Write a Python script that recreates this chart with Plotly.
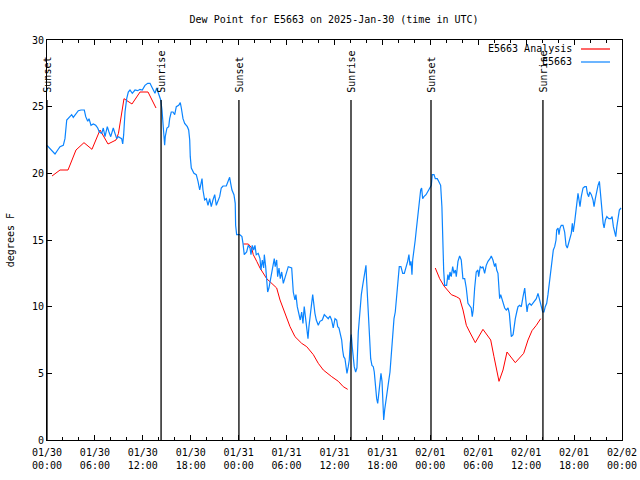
import pandas as pd
import plotly.graph_objects as go

# ---------------- data ----------------
start = "2025-01-30 00:00"
end = "2025-02-02 00:00"

# E5663 observations: hours since 2025-01-30 00:00 UTC, dew point (F)
obs_hours = [
    0.00, 0.59, 1.00, 1.34, 1.63, 2.04, 2.25, 2.47, 2.75, 3.09, 3.29, 3.59, 3.92, 4.26, 4.67, 4.85,
    5.10, 5.26, 5.51, 5.80, 6.10, 6.35, 6.55, 6.85, 7.05, 7.26, 7.55, 7.76, 7.98, 8.10, 8.30, 8.51,
    8.73, 8.93, 9.14, 9.35, 9.48, 9.60, 9.77, 9.98, 10.18, 10.39, 10.68, 11.02, 11.36, 11.64, 11.93,
    12.27, 12.61, 12.90, 13.11, 13.31, 13.52, 13.73, 13.93, 14.24, 14.40, 14.52, 14.65, 14.73, 14.81,
    15.02, 15.24, 15.36, 15.56, 15.78, 15.99, 16.19, 16.49, 16.69, 16.82, 17.03, 17.24, 17.57, 17.74,
    17.87, 17.94, 18.07, 18.40, 18.69, 18.91, 19.12, 19.24, 19.41, 19.53, 19.74, 19.95, 20.16, 20.37,
    20.57, 20.78, 21.00, 21.20, 21.41, 21.62, 21.82, 22.04, 22.45, 22.66, 22.87, 23.00, 23.16, 23.41,
    23.57, 23.62, 23.75, 24.13, 24.41, 24.54, 24.70, 25.00, 25.20, 25.42, 25.54, 25.70, 25.88, 26.04,
    26.20, 26.45, 26.67, 26.79, 26.96, 27.13, 27.21, 27.38, 27.51, 27.63, 27.79, 27.96, 28.13, 28.30,
    28.46, 28.58, 28.76, 28.88, 29.05, 29.21, 29.39, 29.59, 29.80, 30.01, 30.21, 30.64, 30.84, 31.05,
    31.17, 31.34, 31.55, 31.71, 31.89, 32.05, 32.21, 32.39, 32.55, 32.68, 32.80, 32.93, 33.14, 33.27,
    33.43, 33.55, 33.72, 33.97, 34.18, 34.47, 34.72, 35.02, 35.22, 35.43, 35.64, 35.84, 36.06, 36.27,
    36.40, 36.56, 36.72, 36.90, 37.02, 37.15, 37.31, 37.44, 37.56, 37.72, 37.85, 37.97, 38.10, 38.22,
    38.35, 38.47, 38.65, 38.81, 38.98, 39.19, 39.36, 39.53, 39.69, 39.82, 39.94, 40.03, 40.23, 40.36,
    40.53, 40.69, 40.86, 40.98, 41.11, 41.28, 41.41, 41.53, 41.70, 41.82, 41.95, 42.03, 42.16, 42.28,
    42.45, 42.61, 42.78, 42.95, 43.07, 43.20, 43.28, 43.45, 43.61, 43.78, 43.95, 44.11, 44.32, 44.54,
    44.74, 44.95, 45.16, 45.32, 45.45, 45.58, 45.70, 45.79, 45.95, 46.11, 46.24, 46.36, 46.49, 46.61,
    46.79, 46.91, 47.04, 47.20, 47.46, 47.74, 47.96, 48.12, 48.24, 48.46, 48.62, 48.87, 49.04, 49.29,
    49.45, 49.54, 49.67, 49.79, 50.04, 50.20, 50.33, 50.46, 50.62, 50.80, 50.96, 51.13, 51.25, 51.46,
    51.67, 51.87, 52.08, 52.30, 52.50, 52.71, 52.92, 53.12, 53.25, 53.37, 53.55, 53.75, 53.96, 54.05,
    54.25, 54.46, 54.59, 54.80, 55.00, 55.22, 55.47, 55.63, 55.84, 56.05, 56.18, 56.31, 56.47, 56.56,
    56.68, 56.81, 56.97, 57.14, 57.31, 57.51, 57.73, 57.89, 58.02, 58.14, 58.36, 58.48, 58.64, 58.82,
    58.98, 59.19, 59.39, 59.61, 59.82, 59.94, 60.11, 60.23, 60.44, 60.64, 60.86, 61.07, 61.27, 61.48,
    61.61, 61.73, 61.90, 62.07, 62.23, 62.39, 62.57, 62.73, 62.89, 63.07, 63.23, 63.40, 63.57, 63.74,
    63.82, 63.99, 64.11, 64.24, 64.40, 64.61, 64.82, 64.99, 65.15, 65.33, 65.49, 65.65, 65.78, 65.90,
    66.08, 66.21, 66.33, 66.49, 66.62, 66.74, 66.90, 67.12, 67.33, 67.53, 67.66, 67.83, 67.96, 68.16,
    68.37, 68.50, 68.66, 68.84, 69.00, 69.17, 69.35, 69.51, 69.64, 69.76, 69.92, 70.10, 70.35, 70.60,
    70.76, 70.92, 71.10, 71.22, 71.35, 71.51, 71.67, 71.88,
]
obs_dewpt = [
    22.1, 21.75, 21.45, 21.75, 22.0, 22.1, 22.6, 24.0, 24.2, 24.4, 24.2, 24.4, 24.7, 24.75, 24.75, 24.25,
    23.9, 24.1, 23.6, 23.7, 23.6, 23.4, 23.1, 23.0, 23.4, 22.75, 23.5, 23.1, 22.75, 23.0, 23.4, 23.0,
    22.6, 22.75, 22.7, 22.6, 22.2, 22.9, 24.6, 25.6, 26.1, 26.25, 26.0, 26.25, 26.2, 26.3, 26.25,
    26.6, 26.75, 26.75, 26.5, 26.25, 26.0, 26.4, 26.1, 25.5, 24.75, 23.75, 22.75, 22.1, 22.75,
    23.4, 23.5, 24.1, 24.6, 24.6, 24.4, 25.0, 25.1, 25.3, 24.9, 24.1, 23.75, 23.5, 23.25,
    22.5, 21.25, 20.4, 20.0, 19.9, 19.4, 18.75, 19.1, 19.6, 18.75, 18.0, 18.1, 17.6, 18.1,
    17.5, 18.0, 18.4, 17.6, 18.0, 18.25, 18.9, 19.05, 19.05, 19.4, 19.7, 19.25, 18.75, 18.4,
    17.75, 16.1, 15.4, 15.4, 15.25, 14.75, 13.9, 14.1, 14.6, 14.4, 13.9, 14.6, 14.25, 14.6,
    13.9, 14.0, 13.6, 12.75, 13.5, 12.9, 13.9, 13.0, 12.25, 11.1, 11.4, 12.0, 12.6, 13.25,
    13.6, 13.0, 13.5, 12.25, 12.9, 12.1, 12.6, 11.75, 12.25, 12.6, 13.0, 12.9, 11.1, 10.5,
    10.9, 10.0, 9.5, 9.0, 9.6, 8.75, 10.0, 9.0, 8.6, 7.6, 8.5, 9.4, 10.25, 10.9,
    10.0, 9.5, 9.0, 8.6, 8.9, 9.0, 9.4, 9.25, 9.1, 9.3, 9.0, 8.4, 9.1, 9.0,
    8.5, 8.4, 8.0, 7.5, 6.75, 6.25, 6.1, 5.5, 5.0, 5.5, 6.0, 7.25, 7.9, 7.0,
    6.25, 5.5, 5.1, 5.4, 8.1, 9.9, 10.9, 11.6, 12.1, 12.6, 13.1, 11.9, 9.4, 7.4,
    6.1, 5.6, 5.5, 5.1, 4.1, 3.1, 2.75, 3.6, 4.6, 5.0, 4.4, 2.6, 1.5, 2.25,
    3.1, 3.6, 4.4, 5.1, 6.1, 7.1, 8.4, 9.1, 9.6, 10.9, 11.9, 13.0, 13.0, 12.5,
    12.5, 12.9, 13.4, 13.9, 13.1, 13.4, 12.4, 13.5, 14.1, 15.0, 15.75, 16.4, 17.25, 18.1,
    18.75, 18.9, 18.1, 18.25, 18.4, 18.7, 18.9, 19.1, 19.9, 19.9, 19.6, 19.6, 19.4, 19.1,
    17.5, 14.25, 12.75, 11.6, 11.6, 12.4, 12.0, 12.6, 12.25, 13.0, 12.5, 12.75, 12.25, 13.4,
    13.8, 13.5, 12.1, 12.1, 11.4, 10.25, 10.1, 9.9, 9.25, 9.75, 11.4, 12.6, 12.75, 12.25,
    13.0, 12.9, 13.0, 12.5, 13.1, 13.4, 13.6, 13.8, 13.5, 13.0, 13.25, 12.75, 12.5, 11.25,
    10.6, 10.9, 10.6, 10.1, 9.9, 9.75, 9.9, 9.5, 8.5, 7.75, 7.9, 8.5, 9.1, 9.6,
    10.0, 10.1, 10.0, 10.75, 11.4, 10.6, 9.6, 10.1, 10.25, 10.1, 10.25, 10.4, 10.6, 11.0,
    10.75, 10.4, 10.0, 9.6, 9.6, 10.0, 10.25, 10.9, 11.75, 12.75, 13.5, 14.25, 14.5, 15.0,
    15.75, 15.9, 15.4, 15.9, 16.1, 16.1, 15.6, 14.6, 14.4, 14.75, 15.1, 15.5, 16.25, 15.6,
    16.4, 17.1, 17.9, 18.5, 18.0, 17.5, 18.25, 18.9, 19.0, 19.0, 18.5, 18.25, 18.6, 18.4,
    18.0, 17.5, 18.1, 18.75, 19.1, 19.4, 18.0, 17.1, 16.25, 15.9, 16.5, 16.75, 16.6, 16.6,
    16.75, 16.0, 15.4, 15.25, 16.0, 16.6, 17.25, 17.4,
]

# E5663 Analysis: three separate runs (hours since start, dew point F)
ana_hours_1 = [0.63, 1.63, 2.63, 3.63, 4.63, 5.63, 6.64, 7.64, 8.64, 8.95, 9.64, 10.64, 11.65, 12.65, 13.65]
ana_dewpt_1 = [19.8, 20.25, 20.25, 21.75, 22.3, 21.8, 23.25, 22.2, 22.5, 23.0, 25.6, 25.2, 26.1, 26.1, 24.9]
ana_hours_2 = [24.58, 25.21, 25.63, 25.83, 26.26, 26.67, 27.51, 28.13, 28.76, 29.18, 29.80, 30.43,
               31.05, 31.89, 32.52, 33.35, 33.97, 34.60, 35.65, 36.48, 37.10, 37.65]
ana_dewpt_2 = [14.7, 14.7, 14.4, 13.9, 13.4, 12.9, 12.1, 11.75, 11.4, 10.5, 9.5, 8.5,
               7.75, 7.25, 7.0, 6.4, 5.75, 5.25, 4.75, 4.4, 4.0, 3.8]
ana_hours_3 = [48.62, 49.17, 49.71, 50.21, 50.63, 51.25, 51.68, 52.09, 52.51, 52.93, 53.63, 54.59,
               55.56, 55.97, 56.60, 57.10, 57.60, 58.64, 59.69, 60.23, 60.73, 61.27, 61.82]
ana_dewpt_3 = [12.9, 12.1, 11.55, 11.2, 10.9, 10.75, 10.6, 9.75, 8.6, 8.1, 7.3, 8.3,
               7.5, 6.25, 4.4, 5.25, 6.6, 5.8, 6.5, 7.5, 8.2, 8.6, 9.1]

sun_times = ["2025-01-30 00:00", "2025-01-30 14:17", "2025-01-31 00:02",
             "2025-01-31 14:04", "2025-02-01 00:05", "2025-02-01 14:06"]
sun_labels = ["Sunset", "Sunrise", "Sunset", "Sunrise", "Sunset", "Sunrise"]

title_text = "Dew Point for E5663 on 2025-Jan-30 (time in UTC)"
legend_names = ["E5663 Analysis", "E5663"]
colors = ["#ff0000", "#0a84ff"]

# ---------------- build ----------------
base = pd.Timestamp(start)


def to_time(hours):
    return [base + pd.Timedelta(hours=h) for h in hours]


ana_x, ana_y = [], []
for hs, vs in [(ana_hours_1, ana_dewpt_1), (ana_hours_2, ana_dewpt_2), (ana_hours_3, ana_dewpt_3)]:
    ana_x += to_time(hs) + [None]
    ana_y += list(vs) + [None]

FONT = "DejaVu Sans Mono"
fig = go.Figure()
fig.add_trace(go.Scatter(x=ana_x, y=ana_y, mode="lines", name=legend_names[0],
                         line=dict(color=colors[0], width=1), connectgaps=False))
fig.add_trace(go.Scatter(x=to_time(obs_hours), y=obs_dewpt, mode="lines", name=legend_names[1],
                         line=dict(color=colors[1], width=1.2)))

for t, lab in zip(sun_times, sun_labels):
    fig.add_shape(type="line", xref="x", yref="y", x0=t, x1=t, y0=0, y1=25.5,
                  line=dict(color="black", width=1.3), layer="above")
    fig.add_annotation(x=t, y=25.9, xref="x", yref="y", text=lab, textangle=-90,
                       showarrow=False, xanchor="center", yanchor="bottom", xshift=1,
                       font=dict(family=FONT, size=10, color="black"))

# manual gnuplot-style legend (text left of sample line)
for i, (nm, c) in enumerate(zip(legend_names, colors)):
    yp = 0.9775 - i * 0.0325
    fig.add_annotation(x=0.9165, y=yp, xref="paper", yref="paper", text=nm, showarrow=False,
                       xanchor="right", yanchor="middle", font=dict(family=FONT, size=10, color="black"))
    fig.add_shape(type="line", xref="paper", yref="paper", x0=0.9287, x1=0.9791, y0=yp, y1=yp,
                  line=dict(color=c, width=1.2))

fig.add_annotation(x=-0.064, y=0.5, xref="paper", yref="paper", text="degrees F", textangle=-90,
                   showarrow=False, xanchor="center", yanchor="middle",
                   font=dict(family=FONT, size=10, color="black"))

fig.update_layout(
    width=640, height=480,
    margin=dict(l=47, r=18, t=40, b=40, autoexpand=False),
    paper_bgcolor="white", plot_bgcolor="white",
    showlegend=False,
    title=dict(text=title_text, x=0.522, xanchor="center", y=0.96, yanchor="middle",
               font=dict(family=FONT, size=10, color="black")),
    font=dict(family=FONT, size=10, color="black"),
)
fig.update_xaxes(type="date", range=[start, end], dtick=6 * 3600 * 1000, tick0=start,
                 tickformat="%m/%d<br>%H:%M", ticks="inside", ticklen=5, tickcolor="black",
                 showline=True, linecolor="black", linewidth=1, mirror="allticks",
                 showgrid=False, zeroline=False, automargin=False, ticklabelstandoff=3,
                 minor=dict(dtick=2 * 3600 * 1000, ticks="inside", ticklen=3, tickcolor="black"),
                 tickfont=dict(family=FONT, size=10, color="black"))
fig.update_yaxes(range=[0, 30], dtick=5, ticks="inside", ticklen=5, tickcolor="black",
                 showline=True, linecolor="black", linewidth=1, mirror="allticks",
                 showgrid=False, zeroline=False, automargin=False,
                 tickfont=dict(family=FONT, size=10, color="black"))

fig.write_html("out.html", config={"displayModeBar": False},
               post_script="document.body.style.margin='0';document.body.style.padding='0';")
